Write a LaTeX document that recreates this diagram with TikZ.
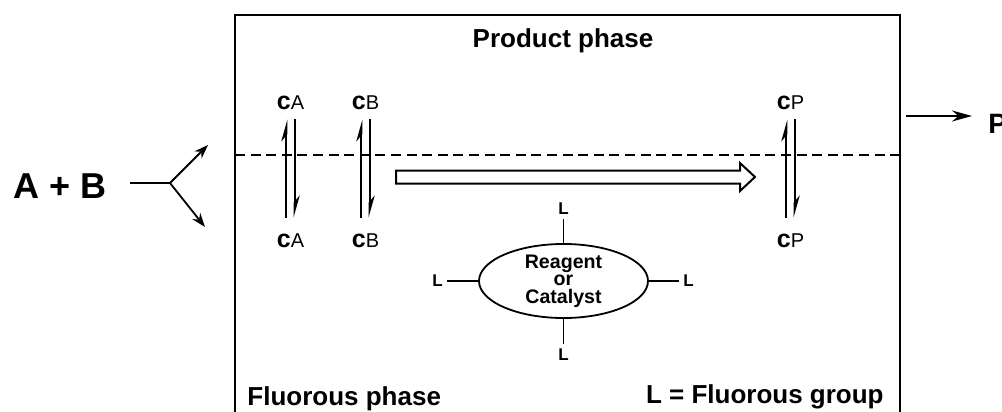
\documentclass[tikz,border=0pt]{standalone}
\usepackage{fontspec}
\setmainfont{Liberation Sans}
\usetikzlibrary{arrows.meta,shapes,positioning}
\newcommand{\conc}[1]{c{\mdseries\fontsize{10}{10}\selectfont #1}}

\begin{document}
\begin{tikzpicture}[x=0.5pt,y=-0.5pt,
  clab/.style={inner sep=0pt,anchor=base,font=\fontsize{12.5}{12.5}\selectfont\bfseries},
  ctop/.style={clab,outer ysep=5pt},
  cbot/.style={clab,outer ysep=7.8pt},
  harp/.style={line width=1.15pt,-{Stealth[harpoon,length=9pt,width=5pt]}},
  lab/.style={inner sep=2pt,font=\fontsize{8.5}{8.5}\selectfont\bfseries},
  txt/.style={inner sep=0pt,font=\fontsize{13}{13}\selectfont\bfseries}]
\useasboundingbox (0,0) rectangle (1002,412);
% the two phases
\draw[line width=1pt](235,412)|-(900,15)--(900,412);
\draw[line width=1pt,dash pattern=on 5pt off 2.8pt](235,155)--(899,155);
\node[txt,anchor=base](prod) at (563,47){Product phase};
\node[txt,anchor=base west](fluo) at (247,405){Fluorous phase};
\node[txt,anchor=base east](Ldef) at (884,403){L = Fluorous group};
% feed
\node[inner sep=0pt,anchor=base west,font=\fontsize{18}{18}\selectfont\bfseries](AB) at (13,198){A + B};
\coordinate(fork) at (170,183);
\coordinate(up) at (208,145);
\coordinate(down) at (205,227);
\draw[line width=0.9pt,shorten <=11.5pt](AB.east |- fork)--(fork);
\draw[line width=0.9pt,-{Stealth[length=7pt,width=5pt]}](fork)--(up);
\draw[line width=0.9pt,-{Stealth[length=7pt,width=5pt]}](fork)--(down);
% product out
\node[inner sep=0pt,anchor=base west,font=\fontsize{14}{14}\selectfont\bfseries](P) at (988,133){P};
\coordinate(out) at (906,116);
\draw[line width=1pt,-{Stealth[length=10pt,width=5.5pt]},shorten >=8pt](out)--(out -| P.west);
% partition equilibria
\node[ctop](cAt) at (290.5,109){\conc{A}};
\node[cbot](cAb) at (290.5,247){\conc{A}};
\node[ctop](cBt) at (365.5,109){\conc{B}};
\node[cbot](cBb) at (365.5,247){\conc{B}};
\node[ctop](cPt) at (790.5,109){\conc{P}};
\node[cbot](cPb) at (790.5,247){\conc{P}};
\draw[harp]([xshift=-2.1pt]cAb.north)--([xshift=-2.1pt]cAt.south);
\draw[harp]([xshift=2.1pt]cAt.south)--([xshift=2.1pt]cAb.north);
\draw[harp]([xshift=-2.1pt]cBb.north)--([xshift=-2.1pt]cBt.south);
\draw[harp]([xshift=2.1pt]cBt.south)--([xshift=2.1pt]cBb.north);
\draw[harp]([xshift=-2.1pt]cPb.north)--([xshift=-2.1pt]cPt.south);
\draw[harp]([xshift=2.1pt]cPt.south)--([xshift=2.1pt]cPb.north);
% reaction arrow
\draw[line width=1pt](396,170.5)--(740,170.5)--(740,163)--(755,177)--(740,191)--(740,183.5)--(396,183.5)--cycle;
% fluorous reagent
\node[draw,ellipse,line width=0.9pt,minimum width=84.5pt,minimum height=34pt,inner sep=0pt,align=center,
  font=\fontsize{9.8}{8.7}\selectfont\bfseries](cat) at (563.5,281){Reagent\\or\\Catalyst};
\node[lab,above=12pt of cat](Lt){L};
\node[lab,below=12.5pt of cat](Lb){L};
\node[lab,left=15.5pt of cat](Ll){L};
\node[lab,right=15pt of cat](Lr){L};
\draw[line width=0.8pt](cat)--(Lt);
\draw[line width=0.8pt](cat)--(Lb);
\draw[line width=0.8pt](cat)--(Ll);
\draw[line width=0.8pt](cat)--(Lr);
\end{tikzpicture}
\end{document}
